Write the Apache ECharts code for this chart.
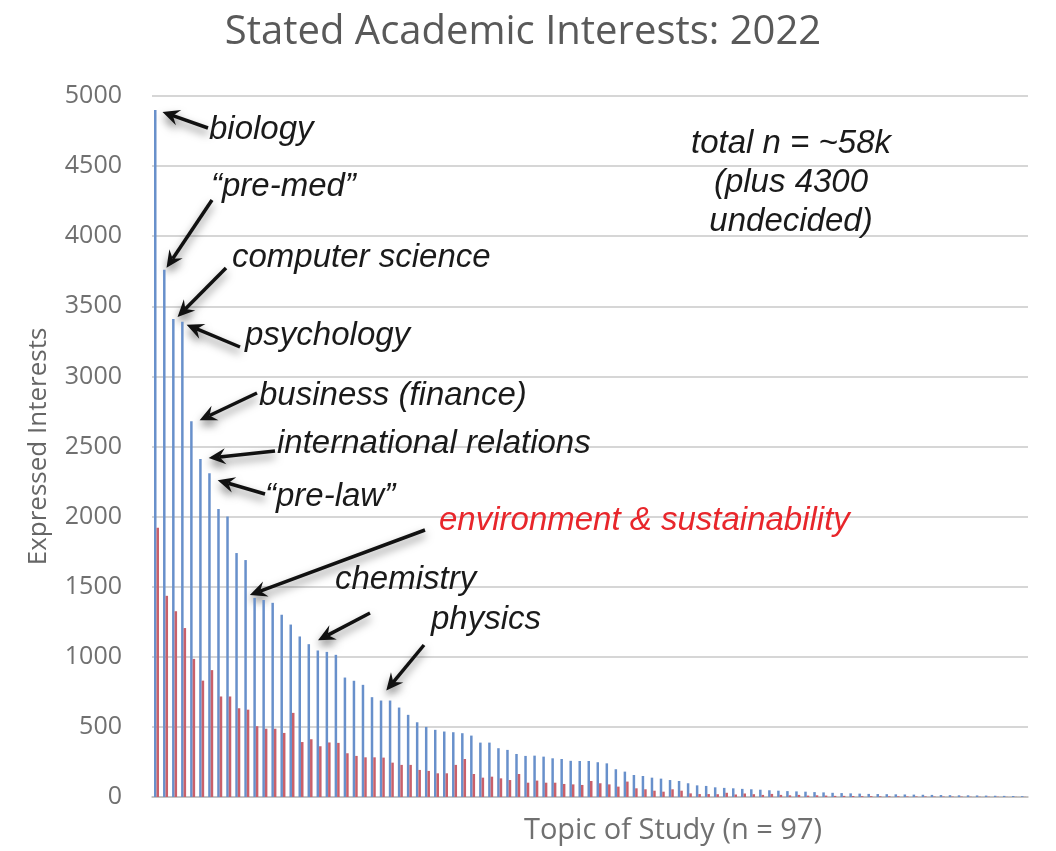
<!DOCTYPE html>
<html>
<head>
<meta charset="utf-8">
<title>Stated Academic Interests: 2022</title>
<script src="https://cdn.jsdelivr.net/npm/echarts@6/dist/echarts.min.js"></script>
<style>
  html, body { margin: 0; padding: 0; background: #fff; }
  #ec { width: 1056px; height: 851px; }
</style>
</head>
<body>
<div id="ec"></div>
<script>
// topics, sorted by total interest (only the labelled ones are known by name)
var namedTopics = {
  1: 'biology', 2: '“pre-med”', 3: 'computer science', 4: 'psychology',
  5: 'business (finance)', 6: 'international relations', 7: '“pre-law”',
  12: 'environment & sustainability', 18: 'chemistry', 26: 'physics'
}
var topics = []
for (var i = 1; i <= 97; i++) {
  topics.push(namedTopics[i] || ('topic ' + i))
}

// blue bars
var blueValues = [
  4900, 3760, 3410, 3390, 2680, 2410, 2310, 2055, 2000, 1740,
  1690, 1420, 1405, 1385, 1300, 1230, 1145, 1090, 1045, 1035,
  1014, 852, 829, 800, 712, 688, 688, 638, 586, 533,
  500, 479, 467, 462, 455, 438, 388, 388, 348, 336,
  307, 293, 295, 288, 276, 271, 258, 257, 257, 248,
  240, 198, 181, 157, 150, 138, 131, 121, 114, 98,
  83, 79, 69, 65, 62, 58, 55, 52, 48, 45,
  42, 40, 38, 35, 33, 30, 28, 26, 24, 22,
  21, 20, 19, 18, 17, 16, 15, 14, 13, 12,
  12, 11, 10, 9, 8, 7, 6
]

// red bars
var redValues = [
  1920, 1435, 1325, 1205, 985, 830, 905, 717, 717, 633,
  623, 505, 487, 487, 457, 600, 392, 412, 362, 389,
  386, 312, 293, 283, 283, 281, 245, 229, 229, 193,
  186, 169, 169, 229, 271, 164, 138, 145, 133, 121,
  164, 102, 117, 102, 102, 93, 90, 86, 114, 98,
  90, 74, 110, 62, 55, 45, 38, 55, 45, 26,
  21, 21, 20, 30, 18, 25, 20, 15, 22, 15,
  12, 15, 10, 12, 10, 8, 8, 7, 6, 6,
  5, 5, 5, 4, 4, 4, 3, 3, 3, 3,
  2, 2, 2, 2, 1, 1, 1
]

var yTicks = [0, 500, 1000, 1500, 2000, 2500, 3000, 3500, 4000, 4500, 5000]

var chart = echarts.init(document.getElementById('ec'))
chart.setOption({
  backgroundColor: '#fff',
  animation: false,
  title: {
    text: 'Stated Academic Interests: 2022',
    left: 518,
    top: 8,
    textAlign: 'center',
    textStyle: {
      fontFamily: 'Open Sans',
      fontSize: 40,
      fontWeight: 'normal',
      color: '#595959'
    }
  },
  grid: {
    left: 152,
    right: 28,
    top: 96,
    bottom: 54,
    outerBoundsMode: 'none'
  },
  xAxis: {
    type: 'category',
    data: topics,
    name: 'Topic of Study (n = 97)',
    nameLocation: 'middle',
    nameGap: 19,
    nameTextStyle: {
      fontFamily: 'Open Sans',
      fontSize: 29,
      color: '#707070',
      padding: [0, 0, 0, 166]
    },
    axisTick: { show: false },
    axisLabel: { show: false },
    axisLine: { lineStyle: { color: '#bfbfbf', width: 1.5 } }
  },
  yAxis: {
    type: 'value',
    min: yTicks[0],
    max: yTicks[yTicks.length - 1],
    interval: 500,
    name: 'Expressed Interests',
    nameLocation: 'middle',
    nameGap: 100,
    nameTextStyle: {
      fontFamily: 'Open Sans',
      fontSize: 26,
      color: '#666'
    },
    axisLabel: {
      fontFamily: 'Open Sans',
      fontSize: 25,
      color: '#707070',
      margin: 30,
      formatter: function (v) { return String(v) }
    },
    splitLine: { lineStyle: { color: '#d6d6d6', width: 2 } }
  },
  series: [
    {
      name: 'blue',
      type: 'bar',
      data: blueValues,
      barWidth: 2.5,
      barGap: '0%',
      itemStyle: { color: '#6890cb' }
    },
    {
      name: 'red',
      type: 'bar',
      data: redValues,
      barWidth: 2.5,
      itemStyle: { color: '#c9606a' }
    }
  ]
})

// annotation arrows: tip computed from the data, tail placed near the label
function arrow(x1, y1, x2, y2) {
  var ang = Math.atan2(y2 - y1, x2 - x1)
  var len = 17, half = 8, notch = 11
  var cos = Math.cos(ang), sin = Math.sin(ang)
  var bx = x2 - len * cos, by = y2 - len * sin
  var nx = x2 - notch * cos, ny = y2 - notch * sin
  var shadow = { shadowColor: 'rgba(0,0,0,0.5)', shadowBlur: 8, shadowOffsetY: 5 }
  return {
    type: 'group',
    children: [
      {
        type: 'line',
        shape: { x1: x1, y1: y1, x2: nx, y2: ny },
        style: Object.assign({ stroke: '#111', lineWidth: 3.5 }, shadow)
      },
      {
        type: 'polygon',
        shape: {
          points: [
            [x2, y2],
            [bx - half * sin, by + half * cos],
            [nx, ny],
            [bx + half * sin, by - half * cos]
          ]
        },
        style: Object.assign({ fill: '#111' }, shadow)
      }
    ]
  }
}

function tip(k, dx, dy) {
  var p = chart.convertToPixel({ seriesIndex: 0 }, [k - 1, blueValues[k - 1]])
  return [p[0] + dx, p[1] + dy]
}

var labelFont = 'italic 33px "Liberation Sans", Arial, sans-serif'
function label(txt, x, y, color) {
  return {
    type: 'text',
    x: x,
    y: y,
    style: {
      text: txt,
      font: labelFont,
      fill: color || '#1a1a1a',
      align: 'left',
      verticalAlign: 'middle'
    }
  }
}

var arrows = [
  { k: 1, dx: 6, dy: 2, from: [208, 128] },
  { k: 2, dx: 1, dy: -2, from: [212, 200] },
  { k: 3, dx: 3, dy: -2, from: [226, 268] },
  { k: 4, dx: 3, dy: 3, from: [240, 347] },
  { k: 5, dx: 7, dy: -1, from: [257, 393] },
  { k: 6, dx: 7, dy: -1, from: [275, 451] },
  { k: 7, dx: 7, dy: 7, from: [265, 494] },
  { k: 12, dx: -6, dy: -3, from: [425, 530] },
  { k: 18, dx: 8, dy: -4, from: [370, 613] },
  { k: 26, dx: 4, dy: -10, from: [424, 645] }
]

var graphics = []
arrows.forEach(function (a) {
  var t = tip(a.k, a.dx, a.dy)
  graphics.push(arrow(a.from[0], a.from[1], t[0], t[1]))
})
graphics.push(
  label('biology', 209, 130),
  label('“pre-med”', 211, 187),
  label('computer science', 232, 258),
  label('psychology', 245, 336),
  label('business (finance)', 259, 396),
  label('international relations', 277, 444),
  label('“pre-law”', 265, 497),
  label('environment & sustainability', 439, 521, '#e8262b'),
  label('chemistry', 335, 580),
  label('physics', 431, 620),
  {
    type: 'text',
    x: 791,
    y: 183,
    style: {
      text: 'total n = ~58k\n(plus 4300\nundecided)',
      font: labelFont,
      fill: '#1a1a1a',
      align: 'center',
      verticalAlign: 'middle',
      lineHeight: 39
    }
  }
)
chart.setOption({ graphic: graphics })

window.addEventListener('resize', function () {
  chart.resize()
})
</script>
</body>
</html>
